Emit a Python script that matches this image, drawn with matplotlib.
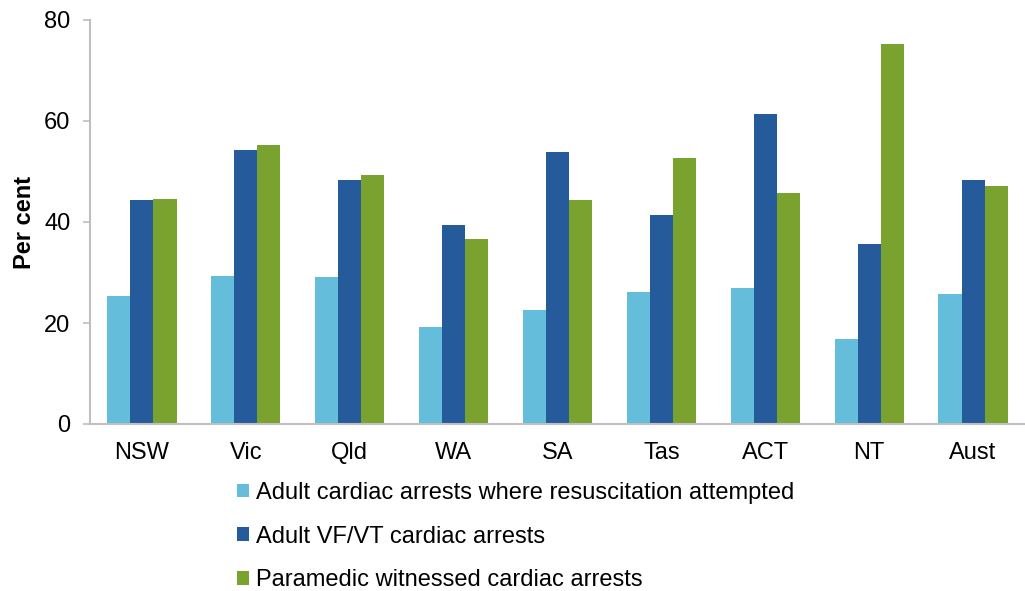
import matplotlib
matplotlib.use("Agg")
import matplotlib.pyplot as plt
import numpy as np
from matplotlib.patches import Patch

plt.rcParams['font.family'] = ['Liberation Sans', 'DejaVu Sans']

categories = ["NSW", "Vic", "Qld", "WA", "SA", "Tas", "ACT", "NT", "Aust"]
series_names = [
    "Adult cardiac arrests where resuscitation attempted",
    "Adult VF/VT cardiac arrests",
    "Paramedic witnessed cardiac arrests",
]
resus_attempted = [25.3, 29.3, 29.2, 19.3, 22.6, 26.1, 27.0, 16.8, 25.8]
vf_vt = [44.3, 54.2, 48.4, 39.4, 53.8, 41.4, 61.4, 35.6, 48.4]
paramedic_witnessed = [44.5, 55.3, 49.4, 36.6, 44.4, 52.7, 45.8, 75.2, 47.1]
colors = ["#63bddb", "#265b9b", "#79a22f"]
yticks = [0, 20, 40, 60, 80]

fig = plt.figure(figsize=(10.25, 5.91), dpi=100)
ax = fig.add_axes([90/1025, 1 - 424/591, 935/1025, 404/591])

x = np.arange(len(categories))
w = 0.222
for i, (vals, c) in enumerate(zip([resus_attempted, vf_vt, paramedic_witnessed], colors)):
    ax.bar(x + (i - 1) * w, vals, width=w, color=c, edgecolor='none', zorder=2)

ax.set_xlim(-0.5, len(categories) - 0.5)
ax.set_ylim(0, 80)
ax.set_yticks(yticks)
ax.set_xticks(x)
ax.set_xticklabels(categories)
ax.tick_params(axis='x', length=0, labelsize=17, pad=13)
ax.tick_params(axis='y', length=5, width=1.2, color='#bfbfbf', labelsize=17, pad=9)
for s in ['top', 'right']:
    ax.spines[s].set_visible(False)
for s in ['left', 'bottom']:
    ax.spines[s].set_color('#bfbfbf')
    ax.spines[s].set_linewidth(1.5)
ax.set_ylabel("Per cent", fontsize=17, fontweight='bold', labelpad=6)

handles = [Patch(facecolor=c, edgecolor='none') for c in colors]
leg = fig.legend(handles, series_names, loc='upper left', bbox_to_anchor=(225/1025, 1 - 470/591),
                 frameon=False, fontsize=17, handlelength=0.5, handleheight=0.5,
                 handletextpad=0.3, labelspacing=0.92, borderpad=0)

fig.savefig("out.png", dpi=100)
